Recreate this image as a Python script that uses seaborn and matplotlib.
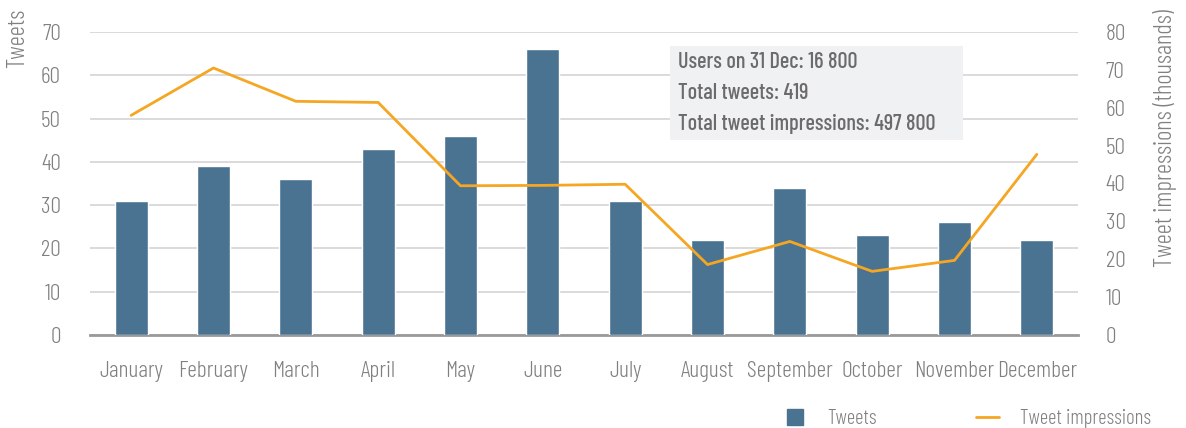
import matplotlib
matplotlib.use("Agg")
import matplotlib.pyplot as plt
import seaborn as sns
import numpy as np
import pandas as pd
from matplotlib import font_manager as fm
from matplotlib.lines import Line2D

months = ["January", "February", "March", "April", "May", "June", "July",
          "August", "September", "October", "November", "December"]
tweets = [31, 39, 36, 43, 46, 66, 31, 22, 34, 23, 26, 22]
impressions = [58.0, 70.5, 61.7, 61.4, 39.4, 39.5, 39.8, 18.6, 24.7, 16.8, 19.7, 47.7]
left_ticks = [0, 10, 20, 30, 40, 50, 60, 70]
right_ticks = [0, 10, 20, 30, 40, 50, 60, 70, 80]
info_lines = ["Users on 31 Dec: 16 800", "Total tweets: 419",
              "Total tweet impressions: 497 800"]

sns.set_theme(style="white")
names = {f.name for f in fm.fontManager.ttflist}
fam = next((n for n in ["Barlow Condensed", "Roboto Condensed", "Saira Condensed",
                        "DejaVu Sans"] if n in names), "DejaVu Sans")
plt.rcParams["font.family"] = [fam, "DejaVu Sans"]
plt.rcParams["font.weight"] = 300

BAR = "#4a7391"
LINE = "#f5a623"
TXT = "#808080"
FS = 17
LFS = 15
em = LFS * 100 / 72

df = pd.DataFrame({"month": months, "tweets": tweets, "impr": impressions,
                   "pos": np.arange(len(months))})

fig = plt.figure(figsize=(11.86, 4.28), dpi=100)
ax = fig.add_axes([90 / 1186, 1 - 335 / 428, 988 / 1186, 303 / 428])
sns.barplot(data=df, x="month", y="tweets", color=BAR, width=0.4,
            saturation=1, ax=ax, zorder=3)
ax.set_xlim(-0.5, 11.5)
ax.set_ylim(0, 70)
ax.set_yticks(left_ticks)
ax.yaxis.grid(True, color="#d4d4d4", linewidth=1.2, zorder=0)
ax.set_axisbelow(True)
for s in ["top", "right", "left"]:
    ax.spines[s].set_visible(False)
ax.spines["bottom"].set_color("#999999")
ax.spines["bottom"].set_linewidth(2)
ax.tick_params(axis="y", length=0, pad=21, labelsize=FS, labelcolor=TXT)
ax.tick_params(axis="x", length=0, pad=19, labelsize=FS, labelcolor=TXT)
ax.set_xlabel("")
ax.set_ylabel("")
fig.text(18 / 1186, 1 - 9 / 428, "Tweets", rotation=90, ha="center", va="top",
         fontsize=18, color=TXT, fontweight=300)

ax2 = ax.twinx()
sns.lineplot(data=df, x="pos", y="impr", color=LINE, linewidth=2, ax=ax2)
ax2.set_ylim(0, 80)
ax2.set_yticks(right_ticks)
for s in ax2.spines.values():
    s.set_visible(False)
ax2.tick_params(axis="y", length=0, pad=20, labelsize=FS, labelcolor=TXT)
ax2.set_ylabel("")
ax2.set_xlabel("")
ax2.set_xlim(-0.5, 11.5)
fig.text(1165 / 1186, 1 - 9 / 428, "Tweet impressions (thousands)", rotation=90,
         ha="center", va="top", fontsize=18, color=TXT, fontweight=300)

# info box
box_ax = fig.add_axes([670 / 1186, 1 - 140 / 428, 293 / 1186, 94 / 428])
box_ax.set_facecolor("#f0f1f3")
box_ax.set_xticks([]); box_ax.set_yticks([])
for s in box_ax.spines.values():
    s.set_visible(False)
for i, t in enumerate(info_lines):
    box_ax.text(8 / 293, 1 - (16 + i * 31) / 94, t, transform=box_ax.transAxes,
                ha="left", va="center", fontsize=16, color="#6b6b6b",
                fontweight=500)

handles = [Line2D([], [], marker="s", linestyle="", markersize=12,
                  markerfacecolor=BAR, markeredgecolor=BAR),
           Line2D([], [], color=LINE, linewidth=2)]
fig.legend(handles, ["Tweets", "Tweet impressions"], loc="center left",
           bbox_to_anchor=(783 / 1186, 1 - 419 / 428), ncol=2, frameon=False,
           prop={"size": LFS, "weight": 300}, labelcolor=TXT,
           handlelength=23 / em, borderpad=0, borderaxespad=0,
           columnspacing=99 / em, handletextpad=21 / em)

fig.savefig("out.png", dpi=100)
